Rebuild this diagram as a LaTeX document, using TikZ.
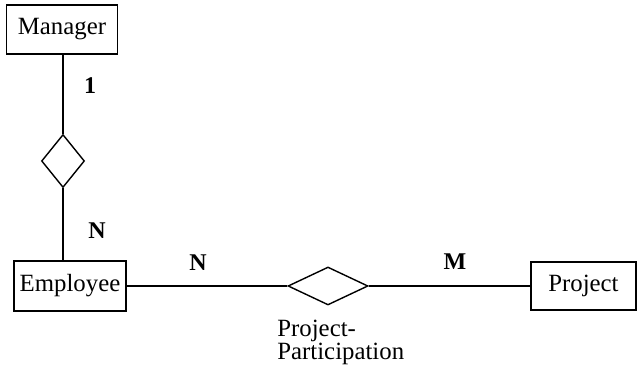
\documentclass[tikz,border=0pt]{standalone}
\usepackage{fontspec}
\setmainfont{Liberation Serif}
\usepackage{tikz}
\usetikzlibrary{shapes.geometric}

\begin{document}
\begin{tikzpicture}[
    x=0.5pt, y=-0.5pt,
    every node/.style={color=black, font=\fontsize{12.4}{11.5}\selectfont},
    entity/.style={draw, line width=0.7pt, rectangle, inner sep=0pt},
    relation/.style={draw, line width=0.7pt, diamond, inner sep=0pt},
    link/.style={line width=0.7pt},
    card/.style={inner sep=0pt, font=\fontsize{12}{12}\selectfont\bfseries}
    ]
    \useasboundingbox (0,0) rectangle (639,373);

    % entities
    \node[entity, minimum width=55.5pt, minimum height=24.5pt] (Manager) at (62,29.5) {Manager};
    \node[entity, minimum width=56pt, minimum height=25pt] (Employee) at (70,286) {Employee};
    \node[entity, minimum width=52.5pt, minimum height=24pt] (Project) at (583.5,286) {Project};

    % relationships
    \node[relation, minimum width=21.5pt, minimum height=26.5pt] (manages) at (63,161) {};
    \node[relation, minimum width=40pt, minimum height=19pt] (participation) at (328,286) {};
    \node[anchor=north west, align=left, inner sep=0pt] (participationlabel) at (277,320) {Project-\\Participation};

    % connections
    \draw[link] (manages.north |- Manager.south) -- (manages.north);
    \draw[link] (manages.south) -- (manages.south |- Employee.north);
    \draw[link] (Employee.east) -- (participation.west);
    \draw[link] (participation.east) -- (Project.west);

    % cardinalities
    \node[card] (c1) at (90,86) {1};
    \node[card] (cN1) at (97,231) {N};
    \node[card] (cN2) at (198,263) {N};
    \node[card] (cM) at (455,262) {M};

\end{tikzpicture}
\end{document}
